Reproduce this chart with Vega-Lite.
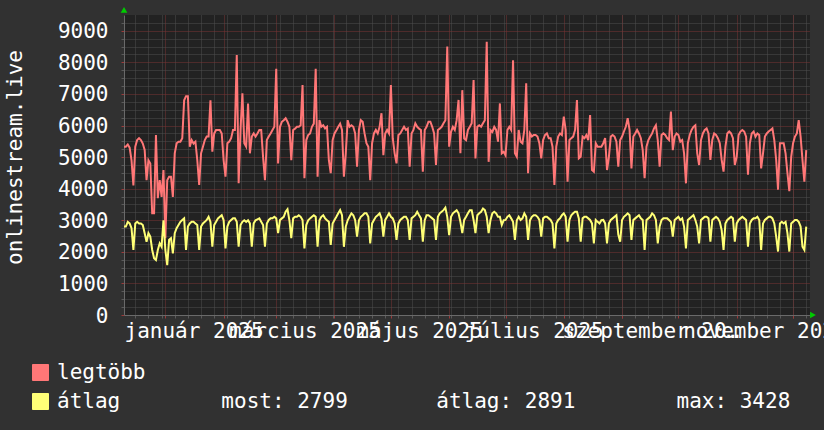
{
  "$schema": "https://vega.github.io/schema/vega-lite/v6.json",
  "width": 686,
  "height": 300,
  "autosize": "none",
  "padding": {"left": 124, "top": 15, "right": 14, "bottom": 115},
  "background": "#313131",
  "config": {
    "view": {"fill": "#222222", "stroke": null},
    "font": "DejaVu Sans Mono",
    "axis": {"labelFont": "DejaVu Sans Mono", "titleFont": "DejaVu Sans Mono", "labelColor": "#ffffff", "titleColor": "#ffffff"}
  },
  "datasets": {
    "d": [
      {"t":"2024-12-10","legtöbb":5330,"átlag":2800},{"t":"2024-12-11","legtöbb":5330,"átlag":2800},{"t":"2024-12-12","legtöbb":5400,"átlag":2950},{"t":"2024-12-13","legtöbb":5300,"átlag":2900},{"t":"2024-12-14","legtöbb":4900,"átlag":2750},{"t":"2024-12-15","legtöbb":4100,"átlag":2060},{"t":"2024-12-16","legtöbb":5330,"átlag":2900},{"t":"2024-12-17","legtöbb":5540,"átlag":2950},{"t":"2024-12-18","legtöbb":5600,"átlag":2900},{"t":"2024-12-19","legtöbb":5540,"átlag":2900},{"t":"2024-12-20","legtöbb":5430,"átlag":2850},{"t":"2024-12-21","legtöbb":5230,"átlag":2590},{"t":"2024-12-22","legtöbb":4270,"átlag":2320},{"t":"2024-12-23","legtöbb":4900,"átlag":2590},{"t":"2024-12-24","legtöbb":4800,"átlag":2480},{"t":"2024-12-25","legtöbb":3220,"átlag":2060},{"t":"2024-12-26","legtöbb":3220,"átlag":1800},{"t":"2024-12-27","legtöbb":5700,"átlag":1740},{"t":"2024-12-28","legtöbb":3700,"átlag":2060},{"t":"2024-12-29","legtöbb":4270,"átlag":2270},{"t":"2024-12-30","legtöbb":3740,"átlag":2160},{"t":"2024-12-31","legtöbb":4590,"átlag":3000},
      {"t":"2025-01-01","legtöbb":2430,"átlag":2060},{"t":"2025-01-02","legtöbb":4270,"átlag":1580},{"t":"2025-01-03","legtöbb":4380,"átlag":2380},{"t":"2025-01-04","legtöbb":4380,"átlag":2430},{"t":"2025-01-05","legtöbb":3740,"átlag":1950},{"t":"2025-01-06","legtöbb":5120,"átlag":2590},{"t":"2025-01-07","legtöbb":5440,"átlag":2750},{"t":"2025-01-08","legtöbb":5490,"átlag":2850},{"t":"2025-01-09","legtöbb":5490,"átlag":2950},{"t":"2025-01-10","legtöbb":5600,"átlag":3010},{"t":"2025-01-11","legtöbb":6800,"átlag":3060},{"t":"2025-01-12","legtöbb":6930,"átlag":2060},{"t":"2025-01-13","legtöbb":6930,"átlag":2800},{"t":"2025-01-14","legtöbb":5330,"átlag":2900},{"t":"2025-01-15","legtöbb":5540,"átlag":2950},{"t":"2025-01-16","legtöbb":5430,"átlag":2950},{"t":"2025-01-17","legtöbb":5490,"átlag":2900},{"t":"2025-01-18","legtöbb":4900,"átlag":2850},{"t":"2025-01-19","legtöbb":4120,"átlag":2060},{"t":"2025-01-20","legtöbb":5120,"átlag":2800},{"t":"2025-01-21","legtöbb":5330,"átlag":2900},{"t":"2025-01-22","legtöbb":5540,"átlag":2950},{"t":"2025-01-23","legtöbb":5650,"átlag":3010},{"t":"2025-01-24","legtöbb":5650,"átlag":3110},{"t":"2025-01-25","legtöbb":6800,"átlag":2950},{"t":"2025-01-26","legtöbb":5170,"átlag":2160},{"t":"2025-01-27","legtöbb":5750,"átlag":2850},{"t":"2025-01-28","legtöbb":5860,"átlag":2950},{"t":"2025-01-29","legtöbb":5860,"átlag":3060},{"t":"2025-01-30","legtöbb":5860,"átlag":3110},{"t":"2025-01-31","legtöbb":5750,"átlag":3160},
      {"t":"2025-02-01","legtöbb":4900,"átlag":3000},{"t":"2025-02-02","legtöbb":4380,"átlag":2110},{"t":"2025-02-03","legtöbb":5440,"átlag":2800},{"t":"2025-02-04","legtöbb":5490,"átlag":2950},{"t":"2025-02-05","legtöbb":5600,"átlag":3010},{"t":"2025-02-06","legtöbb":5860,"átlag":3060},{"t":"2025-02-07","legtöbb":5860,"átlag":3060},{"t":"2025-02-08","legtöbb":8230,"átlag":2950},{"t":"2025-02-09","legtöbb":4170,"átlag":2160},{"t":"2025-02-10","legtöbb":5860,"átlag":2850},{"t":"2025-02-11","legtöbb":7020,"átlag":2950},{"t":"2025-02-12","legtöbb":5440,"átlag":3000},{"t":"2025-02-13","legtöbb":5330,"átlag":2950},{"t":"2025-02-14","legtöbb":6700,"átlag":3000},{"t":"2025-02-15","legtöbb":5120,"átlag":2900},{"t":"2025-02-16","legtöbb":5650,"átlag":2160},{"t":"2025-02-17","legtöbb":5750,"átlag":2900},{"t":"2025-02-18","legtöbb":5650,"átlag":3000},{"t":"2025-02-19","legtöbb":5750,"átlag":3030},{"t":"2025-02-20","legtöbb":5860,"átlag":3060},{"t":"2025-02-21","legtöbb":5860,"átlag":2950},{"t":"2025-02-22","legtöbb":5000,"átlag":2850},{"t":"2025-02-23","legtöbb":4270,"átlag":2160},{"t":"2025-02-24","legtöbb":5540,"átlag":2900},{"t":"2025-02-25","legtöbb":5650,"átlag":3010},{"t":"2025-02-26","legtöbb":5750,"átlag":3060},{"t":"2025-02-27","legtöbb":5860,"átlag":3060},{"t":"2025-02-28","legtöbb":5960,"átlag":3110},
      {"t":"2025-03-01","legtöbb":7800,"átlag":3060},{"t":"2025-03-02","legtöbb":4800,"átlag":2590},{"t":"2025-03-03","legtöbb":5960,"átlag":3010},{"t":"2025-03-04","legtöbb":6120,"átlag":3060},{"t":"2025-03-05","legtöbb":6170,"átlag":3110},{"t":"2025-03-06","legtöbb":6230,"átlag":3270},{"t":"2025-03-07","legtöbb":6120,"átlag":3350},{"t":"2025-03-08","legtöbb":5960,"átlag":3000},{"t":"2025-03-09","legtöbb":4900,"átlag":2430},{"t":"2025-03-10","legtöbb":5860,"átlag":3060},{"t":"2025-03-11","legtöbb":5900,"átlag":3110},{"t":"2025-03-12","legtöbb":5960,"átlag":3110},{"t":"2025-03-13","legtöbb":5960,"átlag":3160},{"t":"2025-03-14","legtöbb":6010,"átlag":3110},{"t":"2025-03-15","legtöbb":7280,"átlag":3010},{"t":"2025-03-16","legtöbb":4330,"átlag":2110},{"t":"2025-03-17","legtöbb":5540,"átlag":2850},{"t":"2025-03-18","legtöbb":5700,"átlag":3000},{"t":"2025-03-19","legtöbb":5750,"átlag":3060},{"t":"2025-03-20","legtöbb":5960,"átlag":3110},{"t":"2025-03-21","legtöbb":6060,"átlag":3160},{"t":"2025-03-22","legtöbb":7800,"átlag":3110},{"t":"2025-03-23","legtöbb":4380,"átlag":2160},{"t":"2025-03-24","legtöbb":6170,"átlag":3000},{"t":"2025-03-25","legtöbb":5960,"átlag":3110},{"t":"2025-03-26","legtöbb":6010,"átlag":3160},{"t":"2025-03-27","legtöbb":5910,"átlag":3060},{"t":"2025-03-28","legtöbb":5960,"átlag":3000},{"t":"2025-03-29","legtöbb":4900,"átlag":2950},{"t":"2025-03-30","legtöbb":4490,"átlag":2220},{"t":"2025-03-31","legtöbb":5540,"átlag":2900},
      {"t":"2025-04-01","legtöbb":5750,"átlag":3010},{"t":"2025-04-02","legtöbb":5850,"átlag":3110},{"t":"2025-04-03","legtöbb":5960,"átlag":3220},{"t":"2025-04-04","legtöbb":6060,"átlag":3320},{"t":"2025-04-05","legtöbb":5860,"átlag":3160},{"t":"2025-04-06","legtöbb":4380,"átlag":2160},{"t":"2025-04-07","legtöbb":5120,"átlag":2800},{"t":"2025-04-08","legtöbb":6170,"átlag":3000},{"t":"2025-04-09","legtöbb":5960,"átlag":3110},{"t":"2025-04-10","legtöbb":6010,"átlag":3220},{"t":"2025-04-11","legtöbb":5960,"átlag":3160},{"t":"2025-04-12","legtöbb":5750,"átlag":3000},{"t":"2025-04-13","legtöbb":4700,"átlag":2480},{"t":"2025-04-14","legtöbb":5860,"átlag":3000},{"t":"2025-04-15","legtöbb":6170,"átlag":3110},{"t":"2025-04-16","legtöbb":6120,"átlag":3160},{"t":"2025-04-17","legtöbb":5750,"átlag":3220},{"t":"2025-04-18","legtöbb":5440,"átlag":3220},{"t":"2025-04-19","legtöbb":5330,"átlag":3110},{"t":"2025-04-20","legtöbb":4270,"átlag":2270},{"t":"2025-04-21","legtöbb":5440,"átlag":2900},{"t":"2025-04-22","legtöbb":5750,"átlag":3010},{"t":"2025-04-23","legtöbb":5860,"átlag":3110},{"t":"2025-04-24","legtöbb":5750,"átlag":3160},{"t":"2025-04-25","legtöbb":5960,"átlag":3220},{"t":"2025-04-26","legtöbb":6390,"átlag":3060},{"t":"2025-04-27","legtöbb":5060,"átlag":2480},{"t":"2025-04-28","legtöbb":5750,"átlag":3010},{"t":"2025-04-29","legtöbb":5860,"átlag":3110},{"t":"2025-04-30","legtöbb":5750,"átlag":3220},
      {"t":"2025-05-01","legtöbb":7280,"átlag":3110},{"t":"2025-05-02","legtöbb":5590,"átlag":3060},{"t":"2025-05-03","legtöbb":5120,"átlag":2900},{"t":"2025-05-04","legtöbb":4800,"átlag":2380},{"t":"2025-05-05","legtöbb":5700,"átlag":2900},{"t":"2025-05-06","legtöbb":5750,"átlag":3010},{"t":"2025-05-07","legtöbb":5860,"átlag":3060},{"t":"2025-05-08","legtöbb":5960,"átlag":3110},{"t":"2025-05-09","legtöbb":5860,"átlag":3110},{"t":"2025-05-10","legtöbb":5900,"átlag":3010},{"t":"2025-05-11","legtöbb":4700,"átlag":2380},{"t":"2025-05-12","legtöbb":5750,"átlag":3060},{"t":"2025-05-13","legtöbb":5860,"átlag":3110},{"t":"2025-05-14","legtöbb":6070,"átlag":3160},{"t":"2025-05-15","legtöbb":5960,"átlag":3270},{"t":"2025-05-16","legtöbb":5900,"átlag":3160},{"t":"2025-05-17","legtöbb":5860,"átlag":3060},{"t":"2025-05-18","legtöbb":4540,"átlag":2320},{"t":"2025-05-19","legtöbb":5860,"átlag":3000},{"t":"2025-05-20","legtöbb":5960,"átlag":3160},{"t":"2025-05-21","legtöbb":6120,"átlag":3160},{"t":"2025-05-22","legtöbb":6120,"átlag":3110},{"t":"2025-05-23","legtöbb":5960,"átlag":3060},{"t":"2025-05-24","legtöbb":5750,"átlag":3010},{"t":"2025-05-25","legtöbb":4750,"átlag":2380},{"t":"2025-05-26","legtöbb":5860,"átlag":3110},{"t":"2025-05-27","legtöbb":5900,"átlag":3220},{"t":"2025-05-28","legtöbb":5960,"átlag":3270},{"t":"2025-05-29","legtöbb":6070,"átlag":3320},{"t":"2025-05-30","legtöbb":6170,"átlag":3400},{"t":"2025-05-31","legtöbb":8500,"átlag":3110},
      {"t":"2025-06-01","legtöbb":5330,"átlag":2530},{"t":"2025-06-02","legtöbb":5800,"átlag":3110},{"t":"2025-06-03","legtöbb":5960,"átlag":3220},{"t":"2025-06-04","legtöbb":5860,"átlag":3270},{"t":"2025-06-05","legtöbb":6170,"átlag":3320},{"t":"2025-06-06","legtöbb":6810,"átlag":3220},{"t":"2025-06-07","legtöbb":5120,"átlag":2950},{"t":"2025-06-08","legtöbb":7120,"átlag":2590},{"t":"2025-06-09","legtöbb":5590,"átlag":3010},{"t":"2025-06-10","legtöbb":5540,"átlag":3110},{"t":"2025-06-11","legtöbb":5860,"átlag":3220},{"t":"2025-06-12","legtöbb":5960,"átlag":3320},{"t":"2025-06-13","legtöbb":6070,"átlag":3320},{"t":"2025-06-14","legtöbb":7440,"átlag":3010},{"t":"2025-06-15","legtöbb":4960,"átlag":2590},{"t":"2025-06-16","legtöbb":5960,"átlag":3160},{"t":"2025-06-17","legtöbb":6010,"átlag":3220},{"t":"2025-06-18","legtöbb":5960,"átlag":3270},{"t":"2025-06-19","legtöbb":6070,"átlag":3370},{"t":"2025-06-20","legtöbb":6170,"átlag":3320},{"t":"2025-06-21","legtöbb":8650,"átlag":3110},{"t":"2025-06-22","legtöbb":4850,"átlag":2590},{"t":"2025-06-23","legtöbb":5860,"átlag":3010},{"t":"2025-06-24","legtöbb":5800,"átlag":3220},{"t":"2025-06-25","legtöbb":5960,"átlag":3270},{"t":"2025-06-26","legtöbb":5860,"átlag":3220},{"t":"2025-06-27","legtöbb":5490,"átlag":3110},{"t":"2025-06-28","legtöbb":6700,"átlag":3110},{"t":"2025-06-29","legtöbb":5120,"átlag":2850},{"t":"2025-06-30","legtöbb":5170,"átlag":3000},
      {"t":"2025-07-01","legtöbb":5060,"átlag":3010},{"t":"2025-07-02","legtöbb":5860,"átlag":3110},{"t":"2025-07-03","legtöbb":5960,"átlag":3160},{"t":"2025-07-04","legtöbb":5860,"átlag":3060},{"t":"2025-07-05","legtöbb":8070,"átlag":2950},{"t":"2025-07-06","legtöbb":5120,"átlag":2380},{"t":"2025-07-07","legtöbb":5010,"átlag":3000},{"t":"2025-07-08","legtöbb":5860,"átlag":3110},{"t":"2025-07-09","legtöbb":5490,"átlag":3010},{"t":"2025-07-10","legtöbb":5440,"átlag":3060},{"t":"2025-07-11","legtöbb":5860,"átlag":3220},{"t":"2025-07-12","legtöbb":7340,"átlag":3110},{"t":"2025-07-13","legtöbb":4490,"átlag":2380},{"t":"2025-07-14","legtöbb":5750,"átlag":3000},{"t":"2025-07-15","legtöbb":5650,"átlag":3110},{"t":"2025-07-16","legtöbb":5700,"átlag":3160},{"t":"2025-07-17","legtöbb":5700,"átlag":3160},{"t":"2025-07-18","legtöbb":5650,"átlag":3110},{"t":"2025-07-19","legtöbb":5440,"átlag":3010},{"t":"2025-07-20","legtöbb":4960,"átlag":2480},{"t":"2025-07-21","legtöbb":5540,"átlag":3060},{"t":"2025-07-22","legtöbb":5700,"átlag":3110},{"t":"2025-07-23","legtöbb":5750,"átlag":3110},{"t":"2025-07-24","legtöbb":5600,"átlag":3060},{"t":"2025-07-25","legtöbb":5600,"átlag":3010},{"t":"2025-07-26","legtöbb":5330,"átlag":2900},{"t":"2025-07-27","legtöbb":4120,"átlag":2110},{"t":"2025-07-28","legtöbb":5330,"átlag":2900},{"t":"2025-07-29","legtöbb":5650,"átlag":3010},{"t":"2025-07-30","legtöbb":5750,"átlag":3060},{"t":"2025-07-31","legtöbb":5700,"átlag":3160},
      {"t":"2025-08-01","legtöbb":6280,"átlag":3220},{"t":"2025-08-02","legtöbb":5860,"átlag":3110},{"t":"2025-08-03","legtöbb":4220,"átlag":2320},{"t":"2025-08-04","legtöbb":5540,"átlag":3010},{"t":"2025-08-05","legtöbb":5600,"átlag":3160},{"t":"2025-08-06","legtöbb":5650,"átlag":3220},{"t":"2025-08-07","legtöbb":5860,"átlag":3270},{"t":"2025-08-08","legtöbb":6810,"átlag":3270},{"t":"2025-08-09","legtöbb":4960,"átlag":3060},{"t":"2025-08-10","legtöbb":5010,"átlag":2320},{"t":"2025-08-11","legtöbb":5650,"átlag":3060},{"t":"2025-08-12","legtöbb":5600,"átlag":3110},{"t":"2025-08-13","legtöbb":5700,"átlag":3110},{"t":"2025-08-14","legtöbb":5540,"átlag":3060},{"t":"2025-08-15","legtöbb":6330,"átlag":3010},{"t":"2025-08-16","legtöbb":4590,"átlag":2900},{"t":"2025-08-17","legtöbb":4540,"átlag":2270},{"t":"2025-08-18","legtöbb":5440,"átlag":3010},{"t":"2025-08-19","legtöbb":5330,"átlag":2950},{"t":"2025-08-20","legtöbb":5330,"átlag":2900},{"t":"2025-08-21","legtöbb":5330,"átlag":3000},{"t":"2025-08-22","legtöbb":5440,"átlag":3010},{"t":"2025-08-23","legtöbb":5600,"átlag":2900},{"t":"2025-08-24","legtöbb":4590,"átlag":2270},{"t":"2025-08-25","legtöbb":5010,"átlag":2900},{"t":"2025-08-26","legtöbb":5650,"átlag":3010},{"t":"2025-08-27","legtöbb":5700,"átlag":3060},{"t":"2025-08-28","legtöbb":5650,"átlag":3110},{"t":"2025-08-29","legtöbb":5490,"átlag":3160},{"t":"2025-08-30","legtöbb":4700,"átlag":2550},{"t":"2025-08-31","legtöbb":5540,"átlag":2320},
      {"t":"2025-09-01","legtöbb":5650,"átlag":3010},{"t":"2025-09-02","legtöbb":5810,"átlag":3110},{"t":"2025-09-03","legtöbb":5960,"átlag":3160},{"t":"2025-09-04","legtöbb":6230,"átlag":3220},{"t":"2025-09-05","legtöbb":5860,"átlag":3160},{"t":"2025-09-06","legtöbb":4640,"átlag":2380},{"t":"2025-09-07","legtöbb":5650,"átlag":3010},{"t":"2025-09-08","legtöbb":5750,"átlag":3060},{"t":"2025-09-09","legtöbb":5860,"átlag":3110},{"t":"2025-09-10","legtöbb":5750,"átlag":3160},{"t":"2025-09-11","legtöbb":5600,"átlag":3060},{"t":"2025-09-12","legtöbb":5220,"átlag":3010},{"t":"2025-09-13","legtöbb":4330,"átlag":2060},{"t":"2025-09-14","legtöbb":5330,"átlag":3010},{"t":"2025-09-15","legtöbb":5540,"átlag":3060},{"t":"2025-09-16","legtöbb":5650,"átlag":3110},{"t":"2025-09-17","legtöbb":5750,"átlag":3220},{"t":"2025-09-18","legtöbb":5910,"átlag":3160},{"t":"2025-09-19","legtöbb":6010,"átlag":3010},{"t":"2025-09-20","legtöbb":5540,"átlag":2270},{"t":"2025-09-21","legtöbb":4700,"átlag":2800},{"t":"2025-09-22","legtöbb":5700,"átlag":3010},{"t":"2025-09-23","legtöbb":5750,"átlag":3060},{"t":"2025-09-24","legtöbb":5700,"átlag":3060},{"t":"2025-09-25","legtöbb":5600,"átlag":3060},{"t":"2025-09-26","legtöbb":5540,"átlag":3010},{"t":"2025-09-27","legtöbb":6440,"átlag":2950},{"t":"2025-09-28","legtöbb":5220,"átlag":2480},{"t":"2025-09-29","legtöbb":5650,"átlag":3010},{"t":"2025-09-30","legtöbb":5750,"átlag":3060},
      {"t":"2025-10-01","legtöbb":5700,"átlag":3110},{"t":"2025-10-02","legtöbb":5490,"átlag":3010},{"t":"2025-10-03","legtöbb":5540,"átlag":3060},{"t":"2025-10-04","legtöbb":5120,"átlag":2800},{"t":"2025-10-05","legtöbb":4170,"átlag":2110},{"t":"2025-10-06","legtöbb":5440,"átlag":3010},{"t":"2025-10-07","legtöbb":5700,"átlag":3060},{"t":"2025-10-08","legtöbb":5860,"átlag":3110},{"t":"2025-10-09","legtöbb":5960,"átlag":3160},{"t":"2025-10-10","legtöbb":6010,"átlag":3010},{"t":"2025-10-11","legtöbb":5120,"átlag":2800},{"t":"2025-10-12","legtöbb":4750,"átlag":2270},{"t":"2025-10-13","legtöbb":5540,"átlag":3010},{"t":"2025-10-14","legtöbb":5750,"átlag":3060},{"t":"2025-10-15","legtöbb":5860,"átlag":3110},{"t":"2025-10-16","legtöbb":5910,"átlag":3110},{"t":"2025-10-17","legtöbb":5750,"átlag":3060},{"t":"2025-10-18","legtöbb":4910,"átlag":2320},{"t":"2025-10-19","legtöbb":5540,"átlag":3010},{"t":"2025-10-20","legtöbb":5750,"átlag":3060},{"t":"2025-10-21","legtöbb":5700,"átlag":3110},{"t":"2025-10-22","legtöbb":5600,"átlag":3060},{"t":"2025-10-23","legtöbb":5440,"átlag":2950},{"t":"2025-10-24","legtöbb":4910,"átlag":2690},{"t":"2025-10-25","legtöbb":4540,"átlag":2060},{"t":"2025-10-26","legtöbb":5330,"átlag":2900},{"t":"2025-10-27","legtöbb":5750,"átlag":3010},{"t":"2025-10-28","legtöbb":5810,"átlag":3060},{"t":"2025-10-29","legtöbb":5750,"átlag":3110},{"t":"2025-10-30","legtöbb":5600,"átlag":3060},{"t":"2025-10-31","legtöbb":4750,"átlag":2320},
      {"t":"2025-11-01","legtöbb":5010,"átlag":2900},{"t":"2025-11-02","legtöbb":5700,"átlag":3010},{"t":"2025-11-03","legtöbb":5810,"átlag":3060},{"t":"2025-11-04","legtöbb":5860,"átlag":3110},{"t":"2025-11-05","legtöbb":5810,"átlag":3060},{"t":"2025-11-06","legtöbb":5650,"átlag":3010},{"t":"2025-11-07","legtöbb":4440,"átlag":2160},{"t":"2025-11-08","legtöbb":5440,"átlag":2900},{"t":"2025-11-09","legtöbb":5750,"átlag":3010},{"t":"2025-11-10","legtöbb":5810,"átlag":3060},{"t":"2025-11-11","legtöbb":5650,"átlag":3060},{"t":"2025-11-12","legtöbb":5750,"átlag":3110},{"t":"2025-11-13","legtöbb":5700,"átlag":3010},{"t":"2025-11-14","legtöbb":4640,"átlag":2060},{"t":"2025-11-15","legtöbb":5120,"átlag":2900},{"t":"2025-11-16","legtöbb":5650,"átlag":3010},{"t":"2025-11-17","legtöbb":5750,"átlag":3060},{"t":"2025-11-18","legtöbb":5810,"átlag":3110},{"t":"2025-11-19","legtöbb":5860,"átlag":3110},{"t":"2025-11-20","legtöbb":5910,"átlag":3060},{"t":"2025-11-21","legtöbb":5540,"átlag":2900},{"t":"2025-11-22","legtöbb":4910,"átlag":2480},{"t":"2025-11-23","legtöbb":3970,"átlag":2010},{"t":"2025-11-24","legtöbb":5440,"átlag":2900},{"t":"2025-11-25","legtöbb":5440,"átlag":2950},{"t":"2025-11-26","legtöbb":5440,"átlag":2900},{"t":"2025-11-27","legtöbb":5120,"átlag":2950},{"t":"2025-11-28","legtöbb":4490,"átlag":2590},{"t":"2025-11-29","legtöbb":3920,"átlag":2010},{"t":"2025-11-30","legtöbb":5010,"átlag":2900},
      {"t":"2025-12-01","legtöbb":5440,"átlag":2950},{"t":"2025-12-02","legtöbb":5650,"átlag":3010},{"t":"2025-12-03","legtöbb":5750,"átlag":3010},{"t":"2025-12-04","legtöbb":6170,"átlag":2950},{"t":"2025-12-05","legtöbb":5650,"átlag":2800},{"t":"2025-12-06","legtöbb":4910,"átlag":2160},{"t":"2025-12-07","legtöbb":4220,"átlag":2060},{"t":"2025-12-08","legtöbb":5220,"átlag":2800}
    ]
  },
  "layer": [
    {
      "data": {"name": "d"},
      "transform": [{"fold": ["legtöbb", "átlag"], "as": ["k", "v"]}],
      "mark": {"type": "line", "strokeWidth": 2, "interpolate": "linear"},
      "encoding": {
        "x": {
          "field": "t", "type": "temporal",
          "scale": {"type": "utc", "domain": [{"year": 2024, "month": 12, "date": 10, "utc": true}, {"year": 2025, "month": 12, "date": 10, "utc": true}]},
          "axis": {
            "orient": "bottom", "title": null, "labels": false, "domain": false,
            "grid": true, "gridColor": "#4e4e4e", "gridDash": [1, 1], "gridWidth": 1,
            "ticks": true, "tickColor": "#5a5a5a", "tickSize": 3,
            "values": [
              {"year":2024,"month":12,"date":16,"utc":true},{"year":2024,"month":12,"date":23,"utc":true},{"year":2024,"month":12,"date":30,"utc":true},
              {"year":2025,"month":1,"date":6,"utc":true},{"year":2025,"month":1,"date":13,"utc":true},{"year":2025,"month":1,"date":20,"utc":true},{"year":2025,"month":1,"date":27,"utc":true},
              {"year":2025,"month":2,"date":3,"utc":true},{"year":2025,"month":2,"date":10,"utc":true},{"year":2025,"month":2,"date":17,"utc":true},{"year":2025,"month":2,"date":24,"utc":true},
              {"year":2025,"month":3,"date":3,"utc":true},{"year":2025,"month":3,"date":10,"utc":true},{"year":2025,"month":3,"date":17,"utc":true},{"year":2025,"month":3,"date":24,"utc":true},{"year":2025,"month":3,"date":31,"utc":true},
              {"year":2025,"month":4,"date":7,"utc":true},{"year":2025,"month":4,"date":14,"utc":true},{"year":2025,"month":4,"date":21,"utc":true},{"year":2025,"month":4,"date":28,"utc":true},
              {"year":2025,"month":5,"date":5,"utc":true},{"year":2025,"month":5,"date":12,"utc":true},{"year":2025,"month":5,"date":19,"utc":true},{"year":2025,"month":5,"date":26,"utc":true},
              {"year":2025,"month":6,"date":2,"utc":true},{"year":2025,"month":6,"date":9,"utc":true},{"year":2025,"month":6,"date":16,"utc":true},{"year":2025,"month":6,"date":23,"utc":true},{"year":2025,"month":6,"date":30,"utc":true},
              {"year":2025,"month":7,"date":7,"utc":true},{"year":2025,"month":7,"date":14,"utc":true},{"year":2025,"month":7,"date":21,"utc":true},{"year":2025,"month":7,"date":28,"utc":true},
              {"year":2025,"month":8,"date":4,"utc":true},{"year":2025,"month":8,"date":11,"utc":true},{"year":2025,"month":8,"date":18,"utc":true},{"year":2025,"month":8,"date":25,"utc":true},
              {"year":2025,"month":9,"date":1,"utc":true},{"year":2025,"month":9,"date":8,"utc":true},{"year":2025,"month":9,"date":15,"utc":true},{"year":2025,"month":9,"date":22,"utc":true},{"year":2025,"month":9,"date":29,"utc":true},
              {"year":2025,"month":10,"date":6,"utc":true},{"year":2025,"month":10,"date":13,"utc":true},{"year":2025,"month":10,"date":20,"utc":true},{"year":2025,"month":10,"date":27,"utc":true},
              {"year":2025,"month":11,"date":3,"utc":true},{"year":2025,"month":11,"date":10,"utc":true},{"year":2025,"month":11,"date":17,"utc":true},{"year":2025,"month":11,"date":24,"utc":true},
              {"year":2025,"month":12,"date":1,"utc":true},{"year":2025,"month":12,"date":8,"utc":true}
            ]
          }
        },
        "y": {
          "field": "v", "type": "quantitative",
          "scale": {"domain": [0, 9500], "nice": false, "zero": true},
          "axis": {
            "orient": "left", "title": null, "labels": false, "domain": false,
            "grid": true, "gridColor": "#4e4e4e", "gridDash": [1, 1], "gridWidth": 1,
            "ticks": true, "tickColor": "#5a5a5a", "tickSize": 3,
            "values": [250, 500, 750, 1250, 1500, 1750, 2250, 2500, 2750, 3250, 3500, 3750, 4250, 4500, 4750, 5250, 5500, 5750, 6250, 6500, 6750, 7250, 7500, 7750, 8250, 8500, 8750, 9250]
          }
        },
        "color": {
          "field": "k", "type": "nominal",
          "scale": {"domain": ["legtöbb", "átlag"], "range": ["#ff7777", "#ffff77"]},
          "legend": {
            "orient": "none", "legendX": -94, "legendY": 347, "direction": "vertical",
            "title": null, "padding": 0, "symbolType": "square", "symbolSize": 256,
            "symbolStrokeColor": "#000000", "symbolStrokeWidth": 1,
            "labelFont": "DejaVu Sans Mono", "labelFontSize": 21, "labelColor": "#ffffff",
            "labelOffset": 6, "labelLimit": 0, "rowPadding": 7,
            "labelExpr": "datum.label == 'átlag' ? 'átlag\u00a0\u00a0\u00a0\u00a0\u00a0\u00a0\u00a0\u00a0most: 2799\u00a0\u00a0\u00a0\u00a0\u00a0\u00a0\u00a0átlag: 2891\u00a0\u00a0\u00a0\u00a0\u00a0\u00a0\u00a0\u00a0max: 3428' : datum.label",
            "encode": {"symbols": {"update": {"fill": {"scale": "color", "field": "value"}, "stroke": {"value": "#000000"}, "strokeWidth": {"value": 1}, "opacity": {"value": 1}}}}
          }
        }
      }
    },
    {
      "data": {"values": [{}]},
      "mark": {"type": "point", "shape": "triangle-up", "filled": true, "color": "#00cc00", "size": 45, "opacity": 1},
      "encoding": {
        "x": {
          "datum": {"year": 2024, "month": 12, "date": 10, "utc": true}, "type": "temporal",
          "axis": {
            "orient": "bottom", "title": null, "labels": false, "domain": false,
            "grid": true, "gridColor": "#7a3434", "gridDash": [1, 1], "gridWidth": 1,
            "ticks": true, "tickColor": "#9a3a3a", "tickSize": 3,
            "values": [
              {"year":2025,"month":1,"date":1,"utc":true},{"year":2025,"month":2,"date":1,"utc":true},{"year":2025,"month":3,"date":1,"utc":true},{"year":2025,"month":4,"date":1,"utc":true},
              {"year":2025,"month":5,"date":1,"utc":true},{"year":2025,"month":6,"date":1,"utc":true},{"year":2025,"month":7,"date":1,"utc":true},{"year":2025,"month":8,"date":1,"utc":true},
              {"year":2025,"month":9,"date":1,"utc":true},{"year":2025,"month":10,"date":1,"utc":true},{"year":2025,"month":11,"date":1,"utc":true},{"year":2025,"month":12,"date":1,"utc":true}
            ]
          }
        },
        "y": {
          "datum": 9660, "type": "quantitative",
          "axis": {
            "orient": "left", "title": "onlinestream.live",
            "titleFont": "DejaVu Sans Mono", "titleFontSize": 21, "titleFontWeight": "normal", "titleColor": "#ffffff",
            "titleAngle": -90, "titleAlign": "center", "titleBaseline": "middle", "titleX": -109, "titleY": 142,
            "domain": true, "domainColor": "#6a6a6a", "domainWidth": 1,
            "grid": true, "gridColor": "#7a3434", "gridDash": [1, 1], "gridWidth": 1,
            "ticks": true, "tickColor": "#9a3a3a", "tickSize": 3,
            "labels": true, "labelFont": "DejaVu Sans Mono", "labelFontSize": 21, "labelColor": "#ffffff",
            "labelPadding": 13, "labelOffset": 1, "format": "d",
            "values": [0, 1000, 2000, 3000, 4000, 5000, 6000, 7000, 8000, 9000]
          }
        }
      }
    },
    {
      "data": {"values": [{}]},
      "mark": {"type": "point", "shape": "triangle-right", "filled": true, "color": "#00cc00", "size": 45, "opacity": 1},
      "encoding": {
        "x": {
          "datum": {"year": 2025, "month": 12, "date": 11, "hours": 14, "utc": true}, "type": "temporal",
          "axis": {
            "orient": "bottom", "title": null, "domain": true, "domainColor": "#6a6a6a", "domainWidth": 1,
            "grid": false, "ticks": false,
            "labelFont": "DejaVu Sans Mono", "labelFontSize": 21, "labelColor": "#ffffff",
            "labelPadding": 22, "labelBaseline": "alphabetic", "labelOverlap": false, "labelBound": false, "labelFlush": false, "labelAlign": "center",
            "labelExpr": "['január','február','március','április','május','június','július','augusztus','szeptember','október','november','december'][utcmonth(datum.value)] + ' ' + utcyear(datum.value)",
            "values": [
              {"year":2025,"month":1,"date":16,"utc":true},{"year":2025,"month":3,"date":16,"utc":true},{"year":2025,"month":5,"date":16,"utc":true},
              {"year":2025,"month":7,"date":16,"utc":true},{"year":2025,"month":9,"date":16,"utc":true},{"year":2025,"month":11,"date":16,"utc":true}
            ]
          }
        },
        "y": {"datum": 0, "type": "quantitative", "axis": null}
      }
    }
  ],
  "resolve": {"axis": {"x": "independent", "y": "independent"}}
}
